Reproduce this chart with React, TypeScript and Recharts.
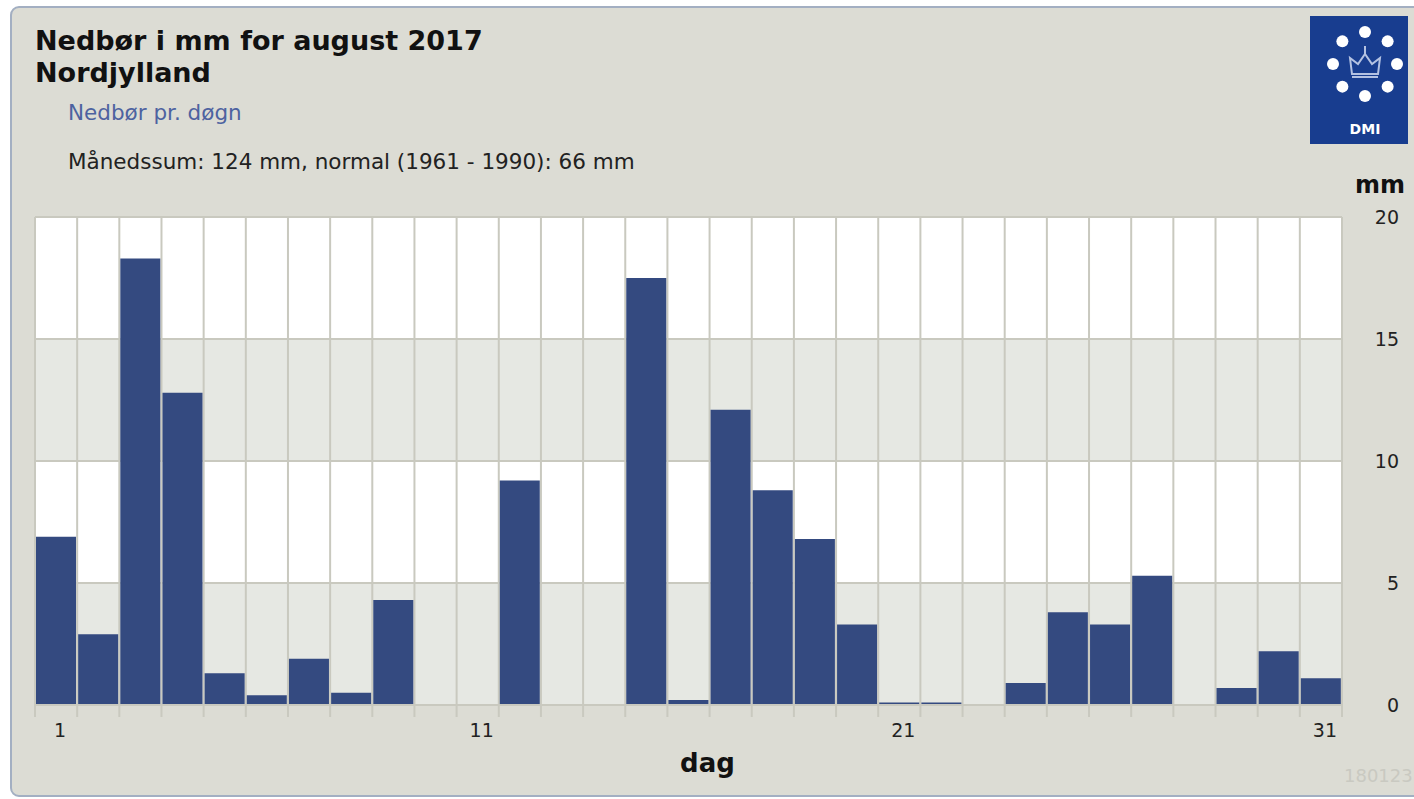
import { Bar, BarChart, CartesianGrid, Label, XAxis, YAxis } from "recharts";

const days = [
  1, 2, 3, 4, 5, 6, 7, 8, 9, 10, 11, 12, 13, 14, 15, 16, 17, 18, 19, 20, 21,
  22, 23, 24, 25, 26, 27, 28, 29, 30, 31,
];

// daily precipitation in mm
const precipitation = [
  6.9, 2.9, 18.3, 12.8, 1.3, 0.4, 1.9, 0.5, 4.3, 0, 0, 9.2, 0, 0, 17.5, 0.2,
  12.1, 8.8, 6.8, 3.3, 0.1, 0.1, 0, 0.9, 3.8, 3.3, 5.3, 0, 0.7, 2.2, 1.1,
];

const yTicks = [0, 5, 10, 15, 20];
const labeledDays = [1, 11, 21, 31];

const FONT = "'DejaVu Sans', Verdana, sans-serif";
const GRID = "#c9c9bf";

const data = days.map((day, i) => ({ day, mm: precipitation[i] }));

function DayTick(props: any) {
  const { x, y, payload, index } = props;
  const half = payload.offset ?? 0;
  return (
    <g>
      <line x1={x - half} x2={x - half} y1={y} y2={y + 12} stroke={GRID} strokeWidth={2} />
      {index === days.length - 1 && (
        <line x1={x + half} x2={x + half} y1={y} y2={y + 12} stroke={GRID} strokeWidth={2} />
      )}
      {labeledDays.includes(payload.value) && (
        <text x={x + 4} y={y + 32} textAnchor="middle" fontSize={19} fill="#222" fontFamily={FONT}>
          {payload.value}
        </text>
      )}
    </g>
  );
}

function MmTick(props: any) {
  const { x, y, payload } = props;
  return (
    <text x={x + 57} y={y} dy="0.35em" textAnchor="end" fontSize={19} fill="#222" fontFamily={FONT}>
      {payload.value}
    </text>
  );
}

function DmiLogo() {
  const cx = 1365;
  const cy = 64;
  const dots = [0, 45, 90, 135, 180, 225, 270, 315];
  return (
    <g>
      <rect x={1310} y={16} width={98} height={128} fill="#183d8f" />
      {dots.map((a) => (
        <circle
          key={a}
          cx={cx + 32 * Math.sin((a * Math.PI) / 180)}
          cy={cy - 32 * Math.cos((a * Math.PI) / 180)}
          r={6}
          fill="#fff"
        />
      ))}
      <path
        d={`M${cx - 13},${cy + 10} L${cx - 15},${cy - 6} L${cx - 7},${cy} L${cx},${cy - 10} L${cx + 7},${cy} L${cx + 15},${cy - 6} L${cx + 13},${cy + 10} Z`}
        fill="none"
        stroke="#b4c2e2"
        strokeWidth={2}
      />
      <line x1={cx - 13} x2={cx + 13} y1={cy + 13} y2={cy + 13} stroke="#b4c2e2" strokeWidth={2} />
      <line x1={cx} x2={cx} y1={cy - 18} y2={cy - 10} stroke="#b4c2e2" strokeWidth={2} />
      <text x={cx} y={134} textAnchor="middle" fontSize={14} fontWeight="bold" fill="#fff" fontFamily={FONT}>
        DMI
      </text>
    </g>
  );
}

export default function App() {
  return (
    <div style={{ position: "fixed", left: 0, top: 0, width: 1414, height: 799, overflow: "hidden", background: "#fff" }}>
      <svg width={1414} height={799} style={{ position: "absolute", left: 0, top: 0 }}>
        <rect x={11} y={7} width={1430} height={789} rx={8} fill="#dcdcd4" stroke="#a3afc2" strokeWidth={2} />
        <text x={35} y={50} fontSize={27} fontWeight="bold" fill="#111" fontFamily={FONT}>
          Nedbør i mm for august 2017
        </text>
        <text x={35} y={82} fontSize={27} fontWeight="bold" fill="#111" fontFamily={FONT}>
          Nordjylland
        </text>
        <text x={68} y={120} fontSize={21.5} fill="#4d62a0" fontFamily={FONT}>
          Nedbør pr. døgn
        </text>
        <text x={68} y={169} fontSize={21.5} fill="#222" fontFamily={FONT}>
          Månedssum: 124 mm, normal (1961 - 1990): 66 mm
        </text>
        <text x={1344} y={782} fontSize={18} fill="#c9c9c1" fontFamily={FONT}>
          180123
        </text>
        <DmiLogo />
      </svg>
      <div style={{ position: "absolute", left: 0, top: 0 }}>
        <BarChart
          width={1414}
          height={799}
          data={data}
          margin={{ top: 217, left: 35, right: 12, bottom: 27 }}
          barCategoryGap={1}
        >
          <CartesianGrid
            stroke={GRID}
            strokeWidth={2}
            horizontalFill={["#ffffff", "#e6e8e3"]}
            fillOpacity={1}
            verticalCoordinatesGenerator={({ offset }: any) =>
              days.concat([0]).map((_, i) => offset.left + (i * offset.width) / days.length)
            }
          />
          <XAxis
            dataKey="day"
            interval={0}
            height={67}
            tickLine={false}
            tickSize={0}
            tickMargin={0}
            axisLine={{ stroke: GRID, strokeWidth: 2 }}
            tick={<DayTick />}
          >
            <Label
              value="dag"
              position="insideBottom"
              offset={0}
              dx={19}
              fontSize={26}
              fontWeight="bold"
              fill="#111"
              fontFamily={FONT}
            />
          </XAxis>
          <YAxis
            orientation="right"
            width={60}
            domain={[0, 20]}
            ticks={yTicks}
            axisLine={false}
            tickLine={false}
            tickSize={0}
            tickMargin={0}
            tick={<MmTick />}
          >
            <Label
              value="mm"
              position="top"
              offset={24}
              dx={8}
              fontSize={24}
              fontWeight="bold"
              fill="#111"
              fontFamily={FONT}
            />
          </YAxis>
          <Bar dataKey="mm" fill="#344a80" isAnimationActive={false} />
        </BarChart>
      </div>
    </div>
  );
}
